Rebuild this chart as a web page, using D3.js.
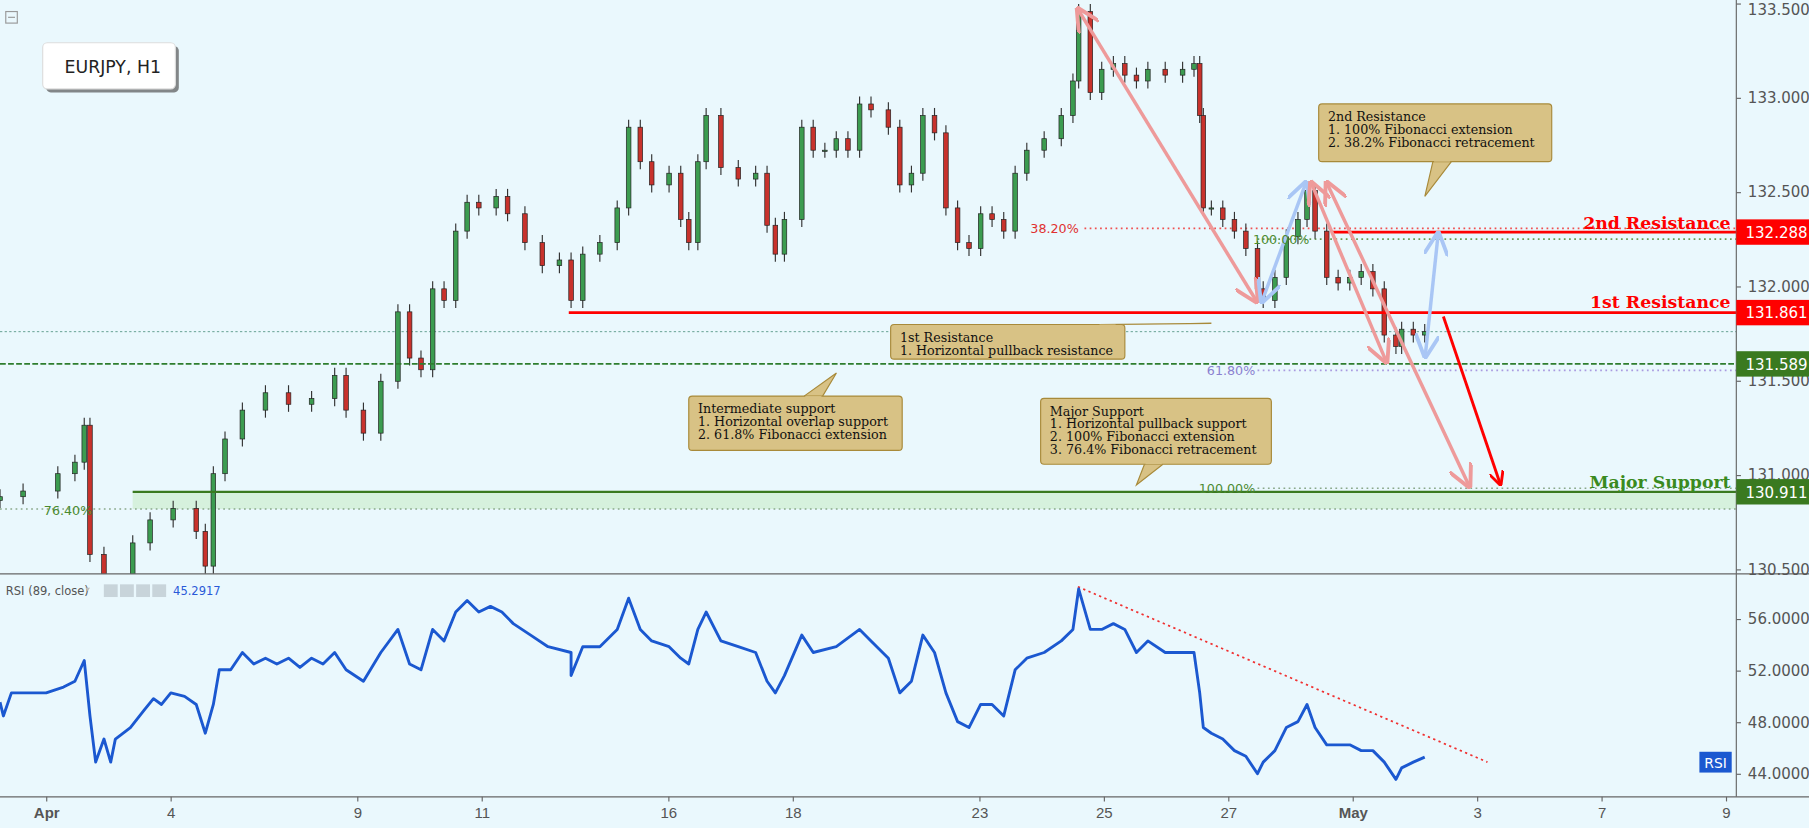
<!DOCTYPE html>
<html><head><meta charset="utf-8">
<script src="https://cdn.jsdelivr.net/npm/d3@7"></script>
<style>body{margin:0;background:#eaf8fd;overflow:hidden}svg{font-family:"DejaVu Sans",sans-serif}</style>
</head><body><svg id="c" width="1809" height="828"></svg>
<script>
// price path: [trading hour since Apr 2 00:00, close]
const priceHours=[-17.8,-8.9,4.5,11.1,14.7,16.9,22.3,28.9,33.4,40.1,49,57.9,61.4,64.5,69,75.7,84.6,93.5,102.4,111.3,115.7,122.4,129.1,135.7,140.2,144.6,149.1,153.5,158,162.4,166.9,173.6,178,184.7,191.4,198,202.5,207,213.6,220.3,224.7,229.2,233.6,240.3,244.8,247.9,251.4,254.6,260.3,267,273.7,278.1,281.3,284.8,291.5,295.9,300.4,304.8,309.3,313.8,318.2,324.9,329.3,333.8,338.2,342.7,347.1,351.6,356,360.5,364.9,369.4,373.8,378.3,385,391.6,396.1,398.3,402.8,407.2,411.7,416.1,420.6,425,431.7,438.4,442.8,445,446.4,449.5,453.9,458.4,462.8,467.3,469.5,474,478.4,482.9,486.4,489.5,494,498.4,502.9,507.3,511.8,516.2,520.7,522.9,527.4,531.8];
const priceClose=[130.885,130.915,131.007,131.068,131.264,130.579,130.33,130.395,130.64,130.762,130.823,130.701,130.517,131.007,131.191,131.344,131.436,131.375,131.405,131.528,131.344,131.222,131.497,131.865,131.62,131.558,131.987,131.926,132.293,132.446,132.416,132.477,132.385,132.232,132.11,132.14,131.926,132.171,132.232,132.416,132.844,132.661,132.538,132.6,132.355,132.232,132.661,132.906,132.63,132.569,132.6,132.324,132.171,132.355,132.844,132.722,132.722,132.783,132.722,132.967,132.936,132.844,132.538,132.6,132.906,132.814,132.416,132.232,132.201,132.385,132.355,132.293,132.6,132.722,132.783,132.906,133.089,133.457,133.028,133.151,133.181,133.12,133.089,133.151,133.12,133.151,133.181,132.906,132.416,132.416,132.355,132.293,132.201,131.987,131.926,132.048,132.263,132.355,132.508,132.293,132.048,132.018,132.048,132.079,131.987,131.742,131.681,131.773,131.742,131.76];
const rsiHours=[-17.8,-16.5,-13.4,0,6.7,11.1,14.7,16.9,19.1,22.3,24.9,26.7,32.5,37.8,41.4,44.5,48.1,53.4,57.9,61.4,64.5,66.8,71.2,75.7,80.1,84.6,89,93.5,97.9,102.4,106.8,111.3,115.7,122.4,129.1,135.7,140.2,144.6,149.1,153.5,158,162.4,166.9,171.4,175.8,180.2,186.9,193.6,202.5,202.5,207,213.6,220.3,224.7,229.2,233.6,240.3,244.8,247.9,251.4,254.6,260.3,267,273.7,278.1,281.3,284.8,291.5,295.9,304.8,313.8,318.2,324.9,329.3,333.8,338.2,342.7,347.1,351.6,356,360.5,364.9,369.4,373.8,378.3,385,391.6,396.1,398.3,402.8,407.2,411.7,416.1,420.6,425,431.7,438.4,442.8,445,446.4,449.5,453.9,458.4,462.8,467.3,469.5,474,478.4,482.9,486.4,489.5,494,498.4,502.9,507.3,511.8,516.2,520.7,522.9,527.4,531.8];
const rsiValue=[49.55,48.48,50.27,50.27,50.72,51.17,52.78,48.48,44.9,46.69,44.9,46.69,47.58,48.93,49.82,49.37,50.27,50.0,49.37,47.14,49.37,52.06,52.06,53.4,52.51,52.96,52.51,52.96,52.24,52.96,52.51,53.4,52.06,51.17,53.4,55.19,52.51,52.06,55.19,54.3,56.54,57.43,56.54,56.98,56.54,55.64,54.75,53.85,53.4,51.61,53.85,53.85,55.19,57.61,55.19,54.3,53.85,52.96,52.51,55.19,56.54,54.3,53.85,53.4,51.17,50.27,51.61,54.75,53.4,53.85,55.19,54.3,52.96,50.27,51.17,54.75,53.4,50.27,48.04,47.58,49.37,49.37,48.48,52.06,52.96,53.4,54.3,55.19,58.33,55.19,55.19,55.64,55.19,53.4,54.3,53.4,53.4,53.4,50.27,47.58,47.14,46.69,45.79,45.35,44.0,44.9,45.79,47.58,48.04,49.37,47.58,46.24,46.24,46.24,45.79,45.79,44.9,43.56,44.45,44.9,45.29];
const priceTicks=[130.5,131,131.5,132,132.5,133,133.5];
const rsiTicks=[44,48,52,56];
const dayTicks=[{d:0,l:"Apr",b:1},{d:2,l:"4"},{d:5,l:"9"},{d:7,l:"11"},{d:10,l:"16"},{d:12,l:"18"},{d:15,l:"23"},{d:17,l:"25"},{d:19,l:"27"},{d:21,l:"May",b:1},{d:23,l:"3"},{d:25,l:"7"},{d:27,l:"9"}];
const levels={r2:132.288,r1:131.861,s1:131.589,ms:130.911,last:131.76,fib100a:132.25,fib618:131.555,fib100b:130.93,fib764:130.82};

const root=d3.select("#c");
root.append("rect").attr("width",1809).attr("height",828).attr("fill","#eaf8fd");
root.append("defs").html(`<clipPath id="cp"><rect x="0" y="0" width="1505" height="497"/></clipPath><clipPath id="cr"><rect x="0" y="497" width="1505" height="193"/></clipPath>
<marker id="ap" viewBox="0 0 10 10" refX="9" refY="5" markerWidth="7" markerHeight="7" orient="auto-start-reverse"><path d="M0,0L10,5L0,10" fill="none" stroke="#ee9a9a" stroke-width="1.6"/></marker>
<marker id="ab" viewBox="0 0 10 10" refX="9" refY="5" markerWidth="7" markerHeight="7" orient="auto-start-reverse"><path d="M0,0L10,5L0,10" fill="none" stroke="#a9c6f5" stroke-width="1.6"/></marker>
<marker id="ar" viewBox="0 0 10 10" refX="9" refY="5" markerWidth="5" markerHeight="5" orient="auto"><path d="M0,0L10,5L0,10" fill="none" stroke="#f00" stroke-width="2"/></marker>`);
const svg=root.append("g").attr("transform","scale(1.1537,1.1548)");
const W=1505,PH=497;
const x=d3.scaleLinear().domain([0,27*24]).range([40,1496]);
const y=d3.scaleLinear().domain([130.5,133.5]).range([493,3]);
const yr=d3.scaleLinear().domain([44,56]).range([670,536]);
const g=svg.append("g").attr("clip-path","url(#cp)");
g.append("rect").attr("x",115).attr("y",y(levels.ms)).attr("width",W-115).attr("height",y(levels.fib764)-y(levels.ms)).attr("fill","#c8ecc8").attr("opacity",.6);
function hl(v,x1,col,w,dash){g.append("line").attr("x1",x1).attr("x2",W).attr("y1",y(v)).attr("y2",y(v)).attr("stroke",col).attr("stroke-width",w).attr("stroke-dasharray",dash||null);}
hl(levels.last,0,"#5a9a8a",0.8,"2,2");
hl(levels.fib764,0,"#8aa88a",1.2,"1.5,3");
hl(levels.fib100b,1090,"#8aa88a",1.2,"1.5,3");
hl(levels.fib618,1090,"#a99ae0",1.5,"1.5,3");
hl(levels.fib100a,1090,"#6a9a50",1.5,"1.5,3");
hl(levels.r2+0.02,940,"#f05050",1.5,"1.5,3");
const cw=4;
priceClose.forEach((c,i)=>{
  const o=i?priceClose[i-1]:c-0.02;const up=c>=o;
  const hi=Math.max(o,c)+0.04,lo=Math.min(o,c)-0.04;const cx=x(priceHours[i]);
  g.append("line").attr("x1",cx).attr("x2",cx).attr("y1",y(hi)).attr("y2",y(lo)).attr("stroke","#333").attr("stroke-width",1);
  g.append("rect").attr("x",cx-cw/2).attr("y",y(Math.max(o,c))).attr("width",cw).attr("height",Math.max(1,Math.abs(y(o)-y(c)))).attr("fill",up?"#3c9c50":"#c8322c").attr("stroke","#222").attr("stroke-width",0.6);
});
hl(levels.s1,0,"#2e7d2e",1.5,"5,2");
hl(levels.ms,115,"#3a7a20",2);
hl(levels.r1,493,"#f00",2.5);
hl(levels.r2,1155,"#f00",2.5);
function ar(x1,y1,x2,y2,col,m,w,both){g.append("line").attr("x1",x1).attr("y1",y1).attr("x2",x2).attr("y2",y2).attr("stroke",col).attr("stroke-width",w).attr("marker-end",`url(#${m})`).attr("marker-start",both?`url(#${m})`:null);}
ar(x(398),y(133.47),x(467),y(131.92),"#ee9a9a","ap",3,1);
ar(x(469),y(131.92),x(486),y(132.55),"#a9c6f5","ab",3,1);
ar(x(488),y(132.55),x(517),y(131.6),"#ee9a9a","ap",3,1);
ar(x(494),y(132.55),x(549),y(130.94),"#ee9a9a","ap",3,1);
ar(x(532),y(131.63),x(537),y(132.28),"#a9c6f5","ab",3,1);
ar(x(539),y(131.84),x(561),y(130.95),"#f00","ar",2.5,0);
const lab=(t,xx,yy,col,sz,anchor,bold,fam)=>g.append("text").attr("x",xx).attr("y",yy).attr("fill",col).attr("font-size",sz).attr("text-anchor",anchor||"start").attr("font-weight",bold?"bold":null).attr("font-family",fam||null).text(t);
lab("38.20%",935,y(levels.r2+0.02)+4,"#e03030",11,"end");
lab("100.00%",1086,y(levels.fib100a)+4,"#4a8a30",11,"start");
lab("61.80%",1088,y(levels.fib618)+4,"#8a80d0",11,"end");
lab("100.00%",1088,y(levels.fib100b)+4,"#4a8a30",11,"end");
lab("76.40%",38,y(levels.fib764)+5,"#4a8a30",11,"start");
lab("2nd Resistance",1500,y(levels.r2)-3,"#f00",15,"end",1,"DejaVu Serif");
lab("1st Resistance",1500,y(levels.r1)-4,"#f00",15,"end",1,"DejaVu Serif");
lab("Major Support",1500,y(levels.ms)-3,"#3a8a20",15,"end",1,"DejaVu Serif");
function callout(x0,y0,w,h,lines,px,py,bx){
  const gg=g.append("g");const above=py<y0;const ey=above?y0:y0+h;
  gg.append("path").attr("d",`M${bx-8},${ey}L${px},${py}L${bx+8},${ey}`).attr("fill","#d8c285").attr("stroke","#a88a3a");
  gg.append("rect").attr("x",x0).attr("y",y0).attr("width",w).attr("height",h).attr("rx",3).attr("fill","#d8c285").attr("stroke","#a88a3a");
  gg.append("path").attr("d",`M${bx-7},${above?ey+1:ey-1}L${bx+7},${above?ey+1:ey-1}`).attr("stroke","#d8c285").attr("stroke-width",2);
  lines.forEach((l,i)=>gg.append("text").attr("x",x0+8).attr("y",y0+15+i*11).attr("font-size",11).attr("font-family","DejaVu Serif").attr("fill","#111").text(l));
}
callout(1143,90,202,50,["2nd Resistance","1. 100% Fibonacci extension","2. 38.2% Fibonacci retracement"],1235,170,1250);
callout(772,281,203,30,["1st Resistance","1. Horizontal pullback resistance"],1050,280,960);
callout(597,343,185,47,["Intermediate support","1. Horizontal overlap support","2. 61.8% Fibonacci extension"],725,323,705);
callout(902,345,200,57,["Major Support","1. Horizontal pullback support","2. 100% Fibonacci extension","3. 76.4% Fibonacci retracement"],985,420,1000);
svg.append("rect").attr("x",40).attr("y",40).attr("width",115).attr("height",40).attr("rx",4).attr("fill","#555").attr("opacity",.7);
svg.append("rect").attr("x",37).attr("y",37).attr("width",115).attr("height",40).attr("rx",4).attr("fill","#fff").attr("stroke","#ddd");
svg.append("text").attr("x",56).attr("y",63).attr("font-size",15).attr("fill","#222").text("EURJPY, H1");
svg.append("rect").attr("x",5).attr("y",10).attr("width",10).attr("height",10).attr("fill","none").attr("stroke","#999");
svg.append("line").attr("x1",7).attr("x2",13).attr("y1",15).attr("y2",15).attr("stroke","#999");
const gr=svg.append("g").attr("clip-path","url(#cr)");
gr.append("line").attr("x1",x(398)).attr("y1",yr(58.5)).attr("x2",x(556)).attr("y2",yr(44.9)).attr("stroke","#f03030").attr("stroke-width",1.5).attr("stroke-dasharray","2,3");
gr.append("path").datum(rsiValue).attr("d",d3.line().x((d,i)=>x(rsiHours[i])).y(d=>yr(d))).attr("fill","none").attr("stroke","#1b58d0").attr("stroke-width",2.5).attr("stroke-linejoin","round");
svg.append("text").attr("x",5).attr("y",515).attr("font-size",10).attr("fill","#555").text("RSI (89, close)");
svg.append("path").attr("d","M74,509l4,0l-2,3z").attr("fill","#bbb");
[90,104,118,132].forEach(xx=>svg.append("rect").attr("x",xx).attr("y",506).attr("width",12).attr("height",11).attr("fill","#c8d4da"));
svg.append("text").attr("x",150).attr("y",515).attr("font-size",10).attr("fill","#2a5ad8").text("45.2917");
svg.append("rect").attr("x",1473).attr("y",651).attr("width",28).attr("height",18).attr("fill","#1b58d0");
svg.append("text").attr("x",1487).attr("y",665).attr("font-size",12).attr("fill","#fff").attr("text-anchor","middle").text("RSI");
svg.append("line").attr("x1",0).attr("x2",1809).attr("y1",PH).attr("y2",PH).attr("stroke","#666");
svg.append("line").attr("x1",0).attr("x2",1809).attr("y1",690).attr("y2",690).attr("stroke","#666");
const ya=svg.append("g").attr("transform",`translate(${W},0)`).call(d3.axisRight(y).tickValues(priceTicks).tickFormat(d3.format(".3f")).tickSize(4));
ya.select(".domain").attr("d","M0,0V"+PH).attr("stroke","#666");
const yra=svg.append("g").attr("transform",`translate(${W},0)`).call(d3.axisRight(yr).tickValues(rsiTicks).tickFormat(d3.format(".4f")).tickSize(4));
yra.select(".domain").attr("d",`M0,${PH}V690`).attr("stroke","#666");
svg.selectAll(".tick text").attr("font-size",13).attr("fill","#555").attr("x",10).attr("font-family","DejaVu Sans");
svg.selectAll(".tick line").attr("stroke","#666");
ya.selectAll(".tick text").filter(d=>d===133.5).attr("dy","0.7em");
function tag(v,col){const yy=y(v);svg.append("rect").attr("x",W).attr("y",yy-11).attr("width",66).attr("height",22).attr("fill",col);svg.append("text").attr("x",W+8).attr("y",yy+5).attr("font-size",13).attr("fill","#fff").text(v.toFixed(3));}
tag(levels.r2,"#f00");tag(levels.r1,"#f00");tag(levels.s1,"#3a7a20");tag(levels.ms,"#3a7a20");
const xa=svg.append("g").attr("transform","translate(0,690)").call(d3.axisBottom(x).tickValues(dayTicks.map(d=>d.d*24)).tickFormat((d,i)=>dayTicks[i].l).tickSize(4));
xa.select(".domain").remove();
xa.selectAll("text").attr("font-size",13).attr("fill","#555").attr("dy","0.9em").attr("font-weight",(d,i)=>dayTicks[i].b?"bold":null);
xa.selectAll("line").attr("stroke","#666");
</script></body></html>
